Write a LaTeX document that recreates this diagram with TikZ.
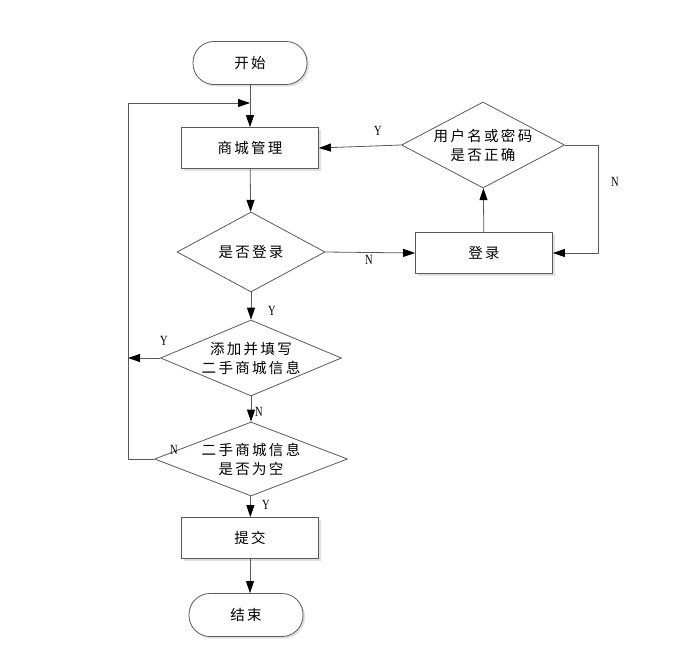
\documentclass[tikz,border=0pt]{standalone}
\usepackage{fontspec}
\setmainfont{Liberation Serif}
\newfontfamily\cjk[LetterSpace=16]{Noto Sans CJK SC}
\usetikzlibrary{arrows.meta,shapes.geometric,shadows}

\begin{document}
\begin{tikzpicture}[x=1pt,y=-1pt,line width=0.8pt,
  >={Triangle[length=12pt,width=8pt,color=black]},
  line/.style={draw=black!65},
  arr/.style={line,->},
  shd/.style={general shadow={fill=black!12,shadow xshift=2pt,shadow yshift=-2pt}},
  proc/.style={draw=black!65,fill=white,shd,minimum width=137pt,minimum height=41pt,inner sep=0pt,font=\cjk\fontsize{14.5pt}{19pt}\selectfont},
  term/.style={proc,rounded corners=21pt,minimum width=114pt,minimum height=43pt},
  ask/.style={diamond,draw=black!65,fill=white,inner sep=0pt,align=center,font=\cjk\fontsize{14.5pt}{19pt}\selectfont},
  lbl/.style={font=\fontsize{14pt}{14pt}\selectfont,inner sep=0pt,xscale=0.75}]
  \useasboundingbox (0,0) rectangle (674,669);
  \node[term] (start) at (250,63) {开始};
  \node[proc] (manage) at (250,148) {商城管理};
  \node[ask,aspect=1.85,minimum width=148pt,minimum height=80pt] (islog) at (251,252) {是否登录};
  \node[proc] (login) at (484,253) {登录};
  \node[ask,aspect=1.9,minimum width=163pt,minimum height=86pt] (auth) at (483,145) {用户名或密码\\是否正确};
  \node[ask,aspect=2.38,minimum width=181pt,minimum height=76pt] (add) at (251,358) {添加并填写\\二手商城信息};
  \node[ask,aspect=2.6,minimum width=193pt,minimum height=74pt] (chk) at (251,459) {二手商城信息\\是否为空};
  \node[proc] (submit) at (250,538) {提交};
  \node[term] (stop) at (246,615) {结束};
  \coordinate (join) at (250,103);
  \coordinate (lp) at (128,103);
  % main flow
  \draw[arr] (start) -- (manage);
  \draw[arr] (manage) -- (islog);
  \draw[arr] (islog) -- (add);
  \draw[arr] (add) -- (chk);
  \draw[arr] (chk) -- (submit);
  \draw[arr] (submit.south) -- (stop.north -| submit.south);
  % login branch
  \draw[arr] (islog.east) -- (login.west);
  \draw[arr] (login) -- (auth);
  \draw[arr] (auth.west) -- (manage.east);
  \draw[arr] (auth.east) -- ++(33,0) |- (login.east);
  % loop back
  \draw[arr] (chk.west) -| (lp) -- (join);
  \draw[arr] (add.west) -- (add.west -| lp);
  % labels
  \node[lbl] (ya) at (378,131) {Y};
  \node[lbl] (na) at (615,182) {N};
  \node[lbl] (nl) at (369,260) {N};
  \node[lbl] (yl) at (272,311) {Y};
  \node[lbl] (yd) at (164,341) {Y};
  \node[lbl] (nd) at (259,412) {N};
  \node[lbl] (nc) at (174,450) {N};
  \node[lbl] (yc) at (266,505) {Y};
\end{tikzpicture}
\end{document}
